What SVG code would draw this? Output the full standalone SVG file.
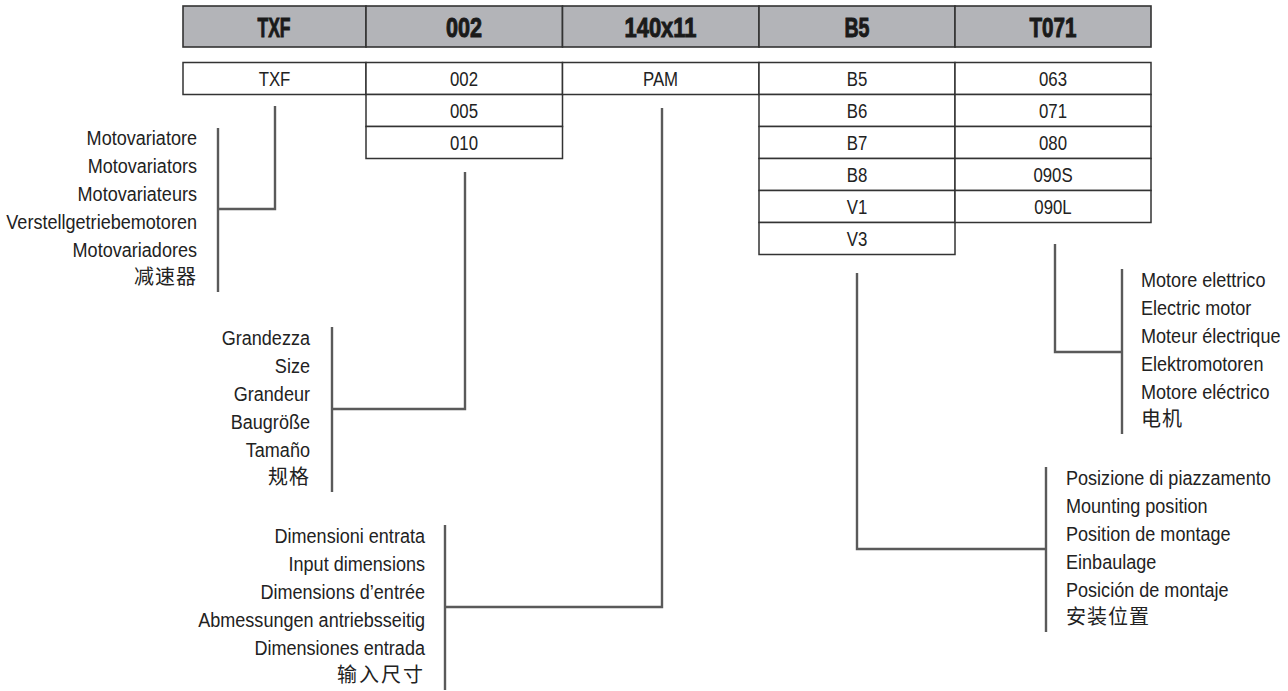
<svg xmlns="http://www.w3.org/2000/svg" width="1288" height="691" viewBox="0 0 1288 691">
<style>
.hdr{fill:#b3b4b8;stroke:#333;stroke-width:1.6}
.cell{fill:#fff;stroke:#333;stroke-width:1.5}
.ht{font-family:"Liberation Sans",Arial,sans-serif;font-weight:bold;font-size:28px;fill:#1a1a1a;stroke:#1a1a1a;stroke-width:1;text-anchor:middle}
.ct{font-family:"Liberation Sans",Arial,sans-serif;font-size:21px;fill:#222;text-anchor:middle}
.lb{font-family:"Liberation Sans",Arial,sans-serif;font-size:21px;fill:#222}
.cjk{font-family:"Noto Sans CJK SC",sans-serif;font-size:20px;fill:#222}
.r{text-anchor:end}
.l{text-anchor:start}
.cn{fill:none;stroke:#5a5a5a;stroke-width:2.4}
</style>
<g id="header">
<rect class="hdr" x="183" y="6" width="183" height="41"/>
<rect class="hdr" x="366" y="6" width="196.5" height="41"/>
<rect class="hdr" x="562.5" y="6" width="196.5" height="41"/>
<rect class="hdr" x="759" y="6" width="196" height="41"/>
<rect class="hdr" x="955" y="6" width="196" height="41"/>
<text class="ht" x="274" y="37" textLength="33" lengthAdjust="spacingAndGlyphs">TXF</text>
<text class="ht" x="464" y="37" textLength="36" lengthAdjust="spacingAndGlyphs">002</text>
<text class="ht" x="660.5" y="37" textLength="72" lengthAdjust="spacingAndGlyphs">140x11</text>
<text class="ht" x="857" y="37" textLength="25" lengthAdjust="spacingAndGlyphs">B5</text>
<text class="ht" x="1053" y="37" textLength="47" lengthAdjust="spacingAndGlyphs">T071</text>
</g>
<g id="col-txf">
<rect class="cell" x="183" y="62.5" width="183" height="32"/>
<text class="ct" transform="translate(274.5,0) scale(0.8,1)" y="86">TXF</text>
</g>
<g id="col-002">
<rect class="cell" x="366" y="62.5" width="196.5" height="32"/>
<rect class="cell" x="366" y="94.5" width="196.5" height="32"/>
<rect class="cell" x="366" y="126.5" width="196.5" height="32"/>
<g transform="translate(464,0) scale(0.8,1)">
<text class="ct" y="86">002</text>
<text class="ct" y="118">005</text>
<text class="ct" y="150">010</text>
</g>
</g>
<g id="col-pam">
<rect class="cell" x="562.5" y="62.5" width="196.5" height="32"/>
<text class="ct" transform="translate(660.5,0) scale(0.8,1)" y="86">PAM</text>
</g>
<g id="col-b5">
<rect class="cell" x="759" y="62.5" width="196" height="32"/>
<rect class="cell" x="759" y="94.5" width="196" height="32"/>
<rect class="cell" x="759" y="126.5" width="196" height="32"/>
<rect class="cell" x="759" y="158.5" width="196" height="32"/>
<rect class="cell" x="759" y="190.5" width="196" height="32"/>
<rect class="cell" x="759" y="222.5" width="196" height="32"/>
<g transform="translate(857,0) scale(0.8,1)">
<text class="ct" y="86">B5</text>
<text class="ct" y="118">B6</text>
<text class="ct" y="150">B7</text>
<text class="ct" y="182">B8</text>
<text class="ct" y="214">V1</text>
<text class="ct" y="246">V3</text>
</g>
</g>
<g id="col-t071">
<rect class="cell" x="955" y="62.5" width="196" height="32"/>
<rect class="cell" x="955" y="94.5" width="196" height="32"/>
<rect class="cell" x="955" y="126.5" width="196" height="32"/>
<rect class="cell" x="955" y="158.5" width="196" height="32"/>
<rect class="cell" x="955" y="190.5" width="196" height="32"/>
<g transform="translate(1053,0) scale(0.8,1)">
<text class="ct" y="86">063</text>
<text class="ct" y="118">071</text>
<text class="ct" y="150">080</text>
<text class="ct" y="182">090S</text>
<text class="ct" y="214">090L</text>
</g>
</g>
<g id="connectors">
<path class="cn" d="M275 106 V209 H218 M218 128 V292"/>
<path class="cn" d="M465 172 V409 H332 M332 327 V492"/>
<path class="cn" d="M662 108 V607 H445 M445 525 V690"/>
<path class="cn" d="M857 273 V549 H1046 M1046 467 V632"/>
<path class="cn" d="M1055 244 V352 H1122 M1122 269 V434"/>
</g>
<g id="label-txf">
<g transform="translate(197,0) scale(0.86,1)">
<text class="lb r" y="145">Motovariatore</text>
<text class="lb r" y="173">Motovariators</text>
<text class="lb r" y="201">Motovariateurs</text>
<text class="lb r" y="229">Verstellgetriebemotoren</text>
<text class="lb r" y="257">Motovariadores</text>
</g>
<text class="cjk r" x="197" y="284" letter-spacing="1">减速器</text>
</g>
<g id="label-002">
<g transform="translate(310,0) scale(0.86,1)">
<text class="lb r" y="345">Grandezza</text>
<text class="lb r" y="373">Size</text>
<text class="lb r" y="401">Grandeur</text>
<text class="lb r" y="429">Baugröße</text>
<text class="lb r" y="457">Tamaño</text>
</g>
<text class="cjk r" x="310" y="484" letter-spacing="1">规格</text>
</g>
<g id="label-pam">
<g transform="translate(425,0) scale(0.86,1)">
<text class="lb r" y="543">Dimensioni entrata</text>
<text class="lb r" y="571">Input dimensions</text>
<text class="lb r" y="599">Dimensions d’entrée</text>
<text class="lb r" y="627">Abmessungen antriebsseitig</text>
<text class="lb r" y="655">Dimensiones entrada</text>
</g>
<text class="cjk r" x="425" y="682" letter-spacing="2">输入尺寸</text>
</g>
<g id="label-b5">
<g transform="translate(1066,0) scale(0.86,1)">
<text class="lb l" y="485">Posizione di piazzamento</text>
<text class="lb l" y="513">Mounting position</text>
<text class="lb l" y="541">Position de montage</text>
<text class="lb l" y="569">Einbaulage</text>
<text class="lb l" y="597">Posición de montaje</text>
</g>
<text class="cjk l" x="1066" y="624" letter-spacing="1">安装位置</text>
</g>
<g id="label-t071">
<g transform="translate(1141,0) scale(0.86,1)">
<text class="lb l" y="287">Motore elettrico</text>
<text class="lb l" y="315">Electric motor</text>
<text class="lb l" y="343">Moteur électrique</text>
<text class="lb l" y="371">Elektromotoren</text>
<text class="lb l" y="399">Motore eléctrico</text>
</g>
<text class="cjk l" x="1141" y="426" letter-spacing="1">电机</text>
</g>
</svg>
